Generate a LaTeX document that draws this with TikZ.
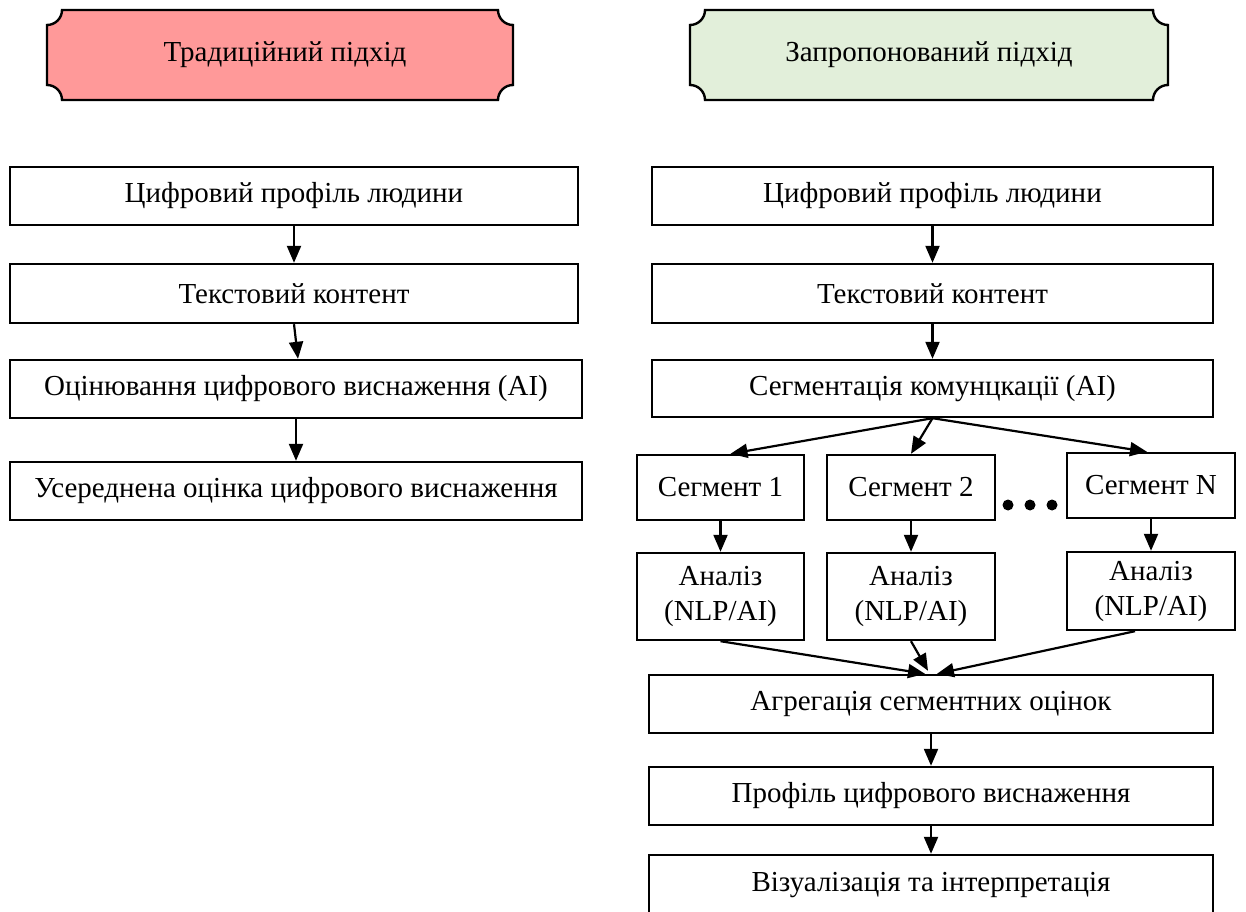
\documentclass[tikz,border=0pt]{standalone}
\usepackage{fontspec}
\setmainfont{Liberation Serif}
\usetikzlibrary{arrows.meta,calc}

\definecolor{oldfill}{HTML}{FF9999}
\definecolor{newfill}{HTML}{E2EFDA}

% plaque-shaped header: rectangle with concave quarter-circle corners
\newcommand\plaquebox[6]{% x1, y1 (bottom-left), x2, y2 (top-right), radius, fill
  \filldraw[fill=#6, draw=black, line width=2.4pt]
    ({#1+#5},#4) -- ({#3-#5},#4)
    arc[start angle=180, end angle=270, radius=#5] -- (#3,{#2+#5})
    arc[start angle=90, end angle=180, radius=#5] -- ({#1+#5},#2)
    arc[start angle=0, end angle=90, radius=#5] -- (#1,{#4-#5})
    arc[start angle=270, end angle=360, radius=#5] -- cycle;
}

\begin{document}
\begin{tikzpicture}[x=1pt, y=1pt,
  every node/.style={font=\fontsize{29}{35}\selectfont, inner sep=0pt},
  stepbox/.style={draw=black, line width=2.4pt, fill=white, rectangle, align=center},
  flow/.style={line width=2.2pt, -{Triangle[length=17pt, width=14pt]}},
  dotmark/.style={fill=black}
]
\useasboundingbox (0,0) rectangle (1246,911);

% headers
\plaquebox{47}{811}{513}{901}{15}{oldfill}
\node (hold) at (285,856) {Традиційний підхід};
\plaquebox{690}{811}{1168}{901}{15}{newfill}
\node (hnew) at (929,856) {Запропонований підхід};

% traditional pipeline
\node[stepbox, minimum width=568pt, minimum height=58pt] (L1) at (294,715) {Цифровий профіль людини};
\node[stepbox, minimum width=568pt, minimum height=59pt] (L2) at (294,617.5) {Текстовий контент};
\node[stepbox, minimum width=572pt, minimum height=58pt] (L3) at (296,522) {Оцінювання цифрового виснаження (AI)};
\node[stepbox, minimum width=572pt, minimum height=58pt] (L4) at (296,420) {Усереднена оцінка цифрового виснаження};

\draw[flow] (L1.south) -- (L2.north);
\draw[flow] (L2.south) -- ($(L3.north)+(2,0)$);
\draw[flow] (L3.south) -- (L4.north);

% proposed pipeline
\node[stepbox, minimum width=561pt, minimum height=58pt] (R1) at (932.5,715) {Цифровий профіль людини};
\node[stepbox, minimum width=561pt, minimum height=59pt] (R2) at (932.5,617.5) {Текстовий контент};
\node[stepbox, minimum width=561pt, minimum height=57pt] (R3) at (932.5,522.5) {Сегментація комунцкації (AI)};

\node[stepbox, minimum width=167pt, minimum height=65pt] (S1) at (720.5,423.5) {Сегмент 1};
\node[stepbox, minimum width=168pt, minimum height=65pt] (S2) at (911,423.5) {Сегмент 2};
\node[stepbox, minimum width=168pt, minimum height=65pt] (SN) at (1151,425.5) {Сегмент N};

\fill[dotmark] (1008,406) circle (5.5);
\fill[dotmark] (1030,406) circle (5.5);
\fill[dotmark] (1052,406) circle (5.5);

\node[stepbox, minimum width=167pt, minimum height=87pt] (A1) at (720.5,314.5) {Аналіз\\(NLP/AI)};
\node[stepbox, minimum width=168pt, minimum height=87pt] (A2) at (911,314.5) {Аналіз\\(NLP/AI)};
\node[stepbox, minimum width=168pt, minimum height=78pt] (AN) at (1151,320) {Аналіз\\(NLP/AI)};

\node[stepbox, minimum width=564pt, minimum height=58pt] (AG) at (931,207) {Агрегація сегментних оцінок};
\node[stepbox, minimum width=564pt, minimum height=58pt] (PR) at (931,115) {Профіль цифрового виснаження};
\node[stepbox, minimum width=564pt, minimum height=60pt] (VI) at (931,26) {Візуалізація та інтерпретація};

\draw[flow] (R1.south) -- (R2.north);
\draw[flow] (R2.south) -- (R3.north);
\draw[flow] (R3.south) -- ($(S1.north)+(10,0)$);
\draw[flow] (R3.south) -- (S2.north);
\draw[flow] (R3.south) -- ($(SN.north)+(-4,0)$);

\draw[flow] (S1.south) -- (A1.north);
\draw[flow] (S2.south) -- (A2.north);
\draw[flow] (SN.south) -- (AN.north);

\draw[flow] (A1.south) -- ($(AG.north)+(-6,0)$);
\draw[flow] (A2.south) -- ($(AG.north)+(-3,3)$);
\draw[flow] ($(AN.south)+(-16,0)$) -- ($(AG.north)+(6,0)$);

\draw[flow] (AG.south) -- (PR.north);
\draw[flow] (PR.south) -- (VI.north);
\end{tikzpicture}
\end{document}
